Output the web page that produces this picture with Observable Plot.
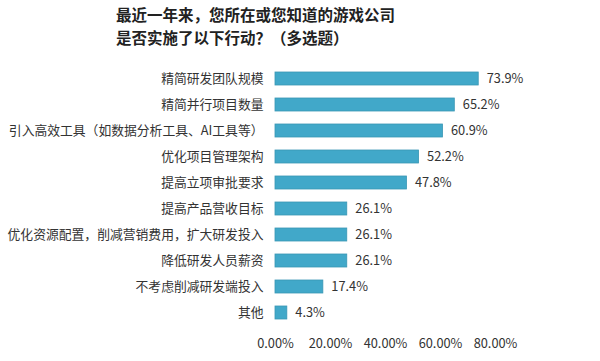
<!DOCTYPE html>
<html>
<head>
<meta charset="utf-8">
<script src="https://cdn.jsdelivr.net/npm/d3@7"></script>
<script src="https://cdn.jsdelivr.net/npm/@observablehq/plot@0.6"></script>
<style>
  html, body { margin: 0; padding: 0; background: #fff; }
  body { width: 600px; height: 361px; overflow: hidden; font-family: "Noto Sans CJK SC", "Noto Sans", sans-serif; }
  #title { position: absolute; left: 116px; top: 3px; font-size: 15.5px; font-weight: bold; line-height: 23px; color: #222; }
  #chart { position: absolute; left: 0; top: 55px; }
</style>
</head>
<body>
<div id="title">最近一年来，您所在或您知道的游戏公司<br>是否实施了以下行动？（多选题）</div>
<div id="chart"></div>
<script>
const categories = [
  "精简研发团队规模",
  "精简并行项目数量",
  "引入高效工具（如数据分析工具、AI工具等）",
  "优化项目管理架构",
  "提高立项审批要求",
  "提高产品营收目标",
  "优化资源配置，削减营销费用，扩大研发投入",
  "降低研发人员薪资",
  "不考虑削减研发端投入",
  "其他"
];
const values = [0.739, 0.652, 0.609, 0.522, 0.478, 0.261, 0.261, 0.261, 0.174, 0.043];
const xTicks = [0, 0.2, 0.4, 0.6, 0.8];

const data = categories.map((c, i) => ({category: c, value: values[i]}));

const chart = Plot.plot({
  width: 600,
  height: 306,
  marginLeft: 275,
  marginRight: 105,
  marginTop: 16.5,
  marginBottom: 41.5,
  style: {fontFamily: "'Noto Sans CJK SC', sans-serif", fontSize: "12.8px", color: "#333", background: "#fff"},
  x: {domain: [0, 0.8], ticks: xTicks, tickFormat: d3.format(".2%"), tickSize: 0, tickPadding: 19, label: null},
  y: {domain: categories, paddingInner: 0.5, paddingOuter: 0, tickSize: 0, tickPadding: 12, label: null},
  marks: [
    Plot.barX(data, {x: "value", y: "category", fill: "#41a8c9", stroke: "#3996b4", strokeWidth: 0.8}),
    Plot.text(data, {x: "value", y: "category", text: d => (d.value * 100).toFixed(1) + "%", textAnchor: "start", dx: 8, fill: "#333", fontSize: 12.8})
  ]
});
document.getElementById("chart").appendChild(chart);
</script>
</body>
</html>
